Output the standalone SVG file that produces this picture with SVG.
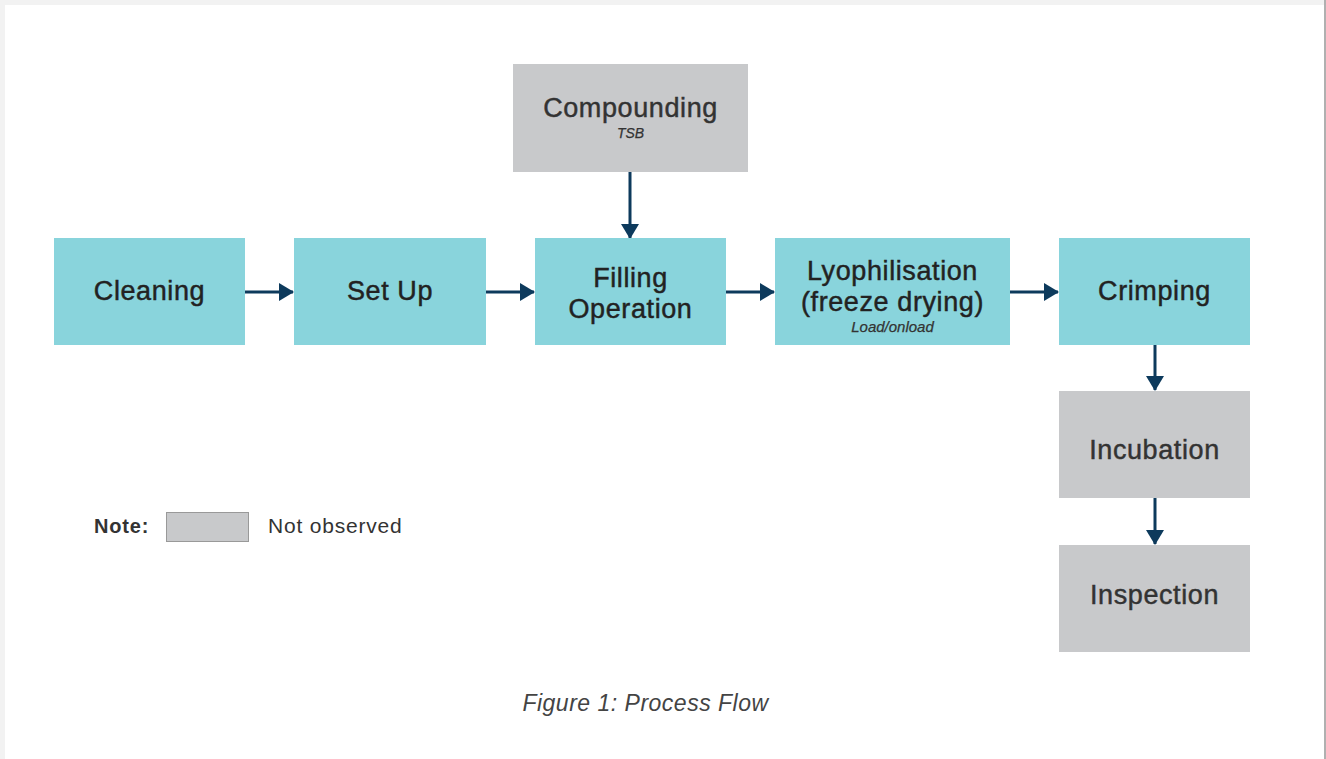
<svg xmlns="http://www.w3.org/2000/svg" width="1326" height="759" viewBox="0 0 1326 759">
  <style>
    .proc { fill: #89d4dc; }
    .nobs { fill: #c8c9cb; }
    .lbl { font-family: "Liberation Sans", Arial, sans-serif; font-size: 27px; fill: #222; stroke: #222; stroke-width: 0.45px; text-anchor: middle; letter-spacing: 0.6px; }
    .glbl { fill: #333; stroke: #333; }
    .sub { font-family: "Liberation Sans", Arial, sans-serif; font-size: 14px; font-style: italic; fill: #333; stroke: #333; stroke-width: 0.25px; text-anchor: middle; }
    .conn { stroke: #0d3a5c; stroke-width: 3; fill: none; }
    .note { font-family: "Liberation Sans", Arial, sans-serif; font-size: 21px; fill: #333; letter-spacing: 0.8px; }
  </style>
  <defs>
    <marker id="ah" markerUnits="userSpaceOnUse" markerWidth="15" markerHeight="18" refX="14" refY="9" orient="auto">
      <path d="M0,0 L15,9 L0,18 Z" fill="#0d3a5c"/>
    </marker>
  </defs>

  <rect x="0" y="0" width="1326" height="759" fill="#f2f2f2"/>
  <rect x="5" y="5" width="1319" height="754" fill="#ffffff"/>
  <rect x="1324" y="0" width="2" height="759" fill="#b0b0b0"/>

  <g id="connectors">
    <line class="conn" x1="245" y1="292" x2="293" y2="292" marker-end="url(#ah)"/>
    <line class="conn" x1="486" y1="292" x2="534" y2="292" marker-end="url(#ah)"/>
    <line class="conn" x1="726" y1="292" x2="774" y2="292" marker-end="url(#ah)"/>
    <line class="conn" x1="1010" y1="292" x2="1058" y2="292" marker-end="url(#ah)"/>
    <line class="conn" x1="630" y1="172" x2="630" y2="238" marker-end="url(#ah)"/>
    <line class="conn" x1="1155" y1="345" x2="1155" y2="390" marker-end="url(#ah)"/>
    <line class="conn" x1="1155" y1="498" x2="1155" y2="544" marker-end="url(#ah)"/>
  </g>

  <g id="compounding">
    <rect class="nobs" x="513" y="64" width="235" height="108"/>
    <text class="lbl glbl" x="630.5" y="117">Compounding</text>
    <text class="sub" x="630.5" y="138">TSB</text>
  </g>
  <g id="cleaning">
    <rect class="proc" x="54" y="238" width="191" height="107"/>
    <text class="lbl" x="149.5" y="300">Cleaning</text>
  </g>
  <g id="setup">
    <rect class="proc" x="294" y="238" width="192" height="107"/>
    <text class="lbl" x="390" y="300">Set Up</text>
  </g>
  <g id="filling">
    <rect class="proc" x="535" y="238" width="191" height="107"/>
    <text class="lbl" x="630.5" y="287">Filling</text>
    <text class="lbl" x="630.5" y="318">Operation</text>
  </g>
  <g id="lyophilisation">
    <rect class="proc" x="775" y="238" width="235" height="107"/>
    <text class="lbl" x="892.5" y="280">Lyophilisation</text>
    <text class="lbl" x="892.5" y="311">(freeze drying)</text>
    <text class="sub" x="892.5" y="332" style="font-size:15px">Load/onload</text>
  </g>
  <g id="crimping">
    <rect class="proc" x="1059" y="238" width="191" height="107"/>
    <text class="lbl" x="1154.5" y="300">Crimping</text>
  </g>
  <g id="incubation">
    <rect class="nobs" x="1059" y="391" width="191" height="107"/>
    <text class="lbl glbl" x="1154.5" y="459">Incubation</text>
  </g>
  <g id="inspection">
    <rect class="nobs" x="1059" y="545" width="191" height="107"/>
    <text class="lbl glbl" x="1154.5" y="604">Inspection</text>
  </g>

  <g id="legend">
    <text class="note" x="94" y="533" font-weight="bold" style="font-size:20px">Note:</text>
    <rect x="166.5" y="512.5" width="82" height="29" fill="#c8c9cb" stroke="#999" stroke-width="1"/>
    <text class="note" x="268" y="533">Not observed</text>
  </g>

  <text x="645.5" y="711" font-family="Liberation Sans, Arial, sans-serif" font-size="23" font-style="italic" letter-spacing="0.5" fill="#444" text-anchor="middle">Figure 1: Process Flow</text>
</svg>
